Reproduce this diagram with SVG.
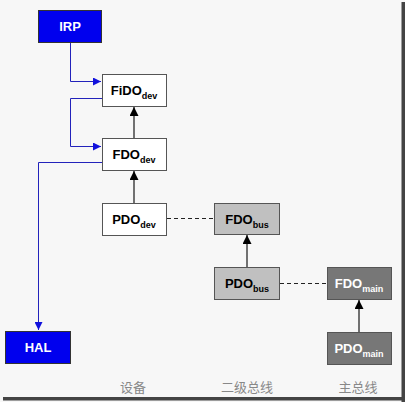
<svg xmlns="http://www.w3.org/2000/svg" width="405" height="402" viewBox="0 0 405 402">
<defs>
<style>
.box{stroke:#555;stroke-width:1}
.w{fill:#fff}
.g{fill:#c0c0c0}
.d{fill:#777}
.b{fill:#0000ee;stroke:#333}
.t{font-family:Arial,"Liberation Sans",sans-serif;font-weight:bold;font-size:13px;text-anchor:middle}
.s{font-size:9px}
.wt{fill:#fff}
.blk{fill:#000}
.cn{font-family:"Noto Sans CJK SC",sans-serif;font-size:13px;fill:#888;text-anchor:middle}
.bl{stroke:#2222bb;stroke-width:1;fill:none}
.k{stroke:#444;stroke-width:1.5;fill:none}
.ds{stroke:#222;stroke-width:1;stroke-dasharray:4,3;fill:none}
</style>
<marker id="ab" viewBox="0 0 10 10" refX="10" refY="5" markerWidth="8" markerHeight="8" markerUnits="userSpaceOnUse" orient="auto"><path d="M0,0L10,5L0,10z" fill="#1111dd"/></marker>
<marker id="ak" viewBox="0 0 10 10" refX="10" refY="5" markerWidth="9" markerHeight="9" markerUnits="userSpaceOnUse" orient="auto"><path d="M0,0L10,5L0,10z" fill="#000"/></marker>
</defs>
<rect x="0" y="0" width="405" height="402" fill="#f7f7f7"/>
<rect x="401.5" y="2" width="3.5" height="400" fill="#444"/>
<rect x="3" y="397" width="402" height="3.5" fill="#444"/>
<g id="connectors">
<path class="bl" d="M70.5,42V81.5H101" marker-end="url(#ab)"/>
<path class="bl" d="M102,98.5H70.5V146.5H101" marker-end="url(#ab)"/>
<path class="bl" d="M102,162.5H38.5V330" marker-end="url(#ab)"/>
<path class="k" d="M134,138V107" marker-end="url(#ak)"/>
<path class="k" d="M134,203V171" marker-end="url(#ak)"/>
<path class="k" d="M247,267V235" marker-end="url(#ak)"/>
<path class="k" d="M359,332V300" marker-end="url(#ak)"/>
<path class="ds" d="M167,218.5H214"/>
<path class="ds" d="M280,283.5H327"/>
</g>
<g id="irp"><rect class="b" x="38.5" y="10.5" width="63" height="32"/><text class="t wt" x="70" y="31">IRP</text></g>
<g id="fido"><rect class="box w" x="102.5" y="74.5" width="64" height="32"/><text class="t blk" x="134" y="95">FiDO<tspan class="s" dy="4">dev</tspan></text></g>
<g id="fdodev"><rect class="box w" x="102.5" y="138.5" width="64" height="32"/><text class="t blk" x="134" y="159">FDO<tspan class="s" dy="4">dev</tspan></text></g>
<g id="pdodev"><rect class="box w" x="102.5" y="203.5" width="64" height="32"/><text class="t blk" x="134" y="224">PDO<tspan class="s" dy="4">dev</tspan></text></g>
<g id="hal"><rect class="b" x="5.5" y="331.5" width="65" height="32"/><text class="t wt" x="38" y="352">HAL</text></g>
<g id="fdobus"><rect class="box g" x="214.5" y="203.5" width="65" height="31"/><text class="t blk" x="247" y="224">FDO<tspan class="s" dy="4">bus</tspan></text></g>
<g id="pdobus"><rect class="box g" x="214.5" y="267.5" width="65" height="32"/><text class="t blk" x="247" y="288">PDO<tspan class="s" dy="4">bus</tspan></text></g>
<g id="fdomain"><rect class="box d" x="327.5" y="267.5" width="64" height="32"/><text class="t wt" x="359" y="288">FDO<tspan class="s" dy="4">main</tspan></text></g>
<g id="pdomain"><rect class="box d" x="327.5" y="332.5" width="64" height="32"/><text class="t wt" x="359" y="353">PDO<tspan class="s" dy="4">main</tspan></text></g>
<g id="labels">
<text class="cn" x="133" y="392">设备</text>
<text class="cn" x="247" y="392">二级总线</text>
<text class="cn" x="358" y="392">主总线</text>
</g>
</svg>
